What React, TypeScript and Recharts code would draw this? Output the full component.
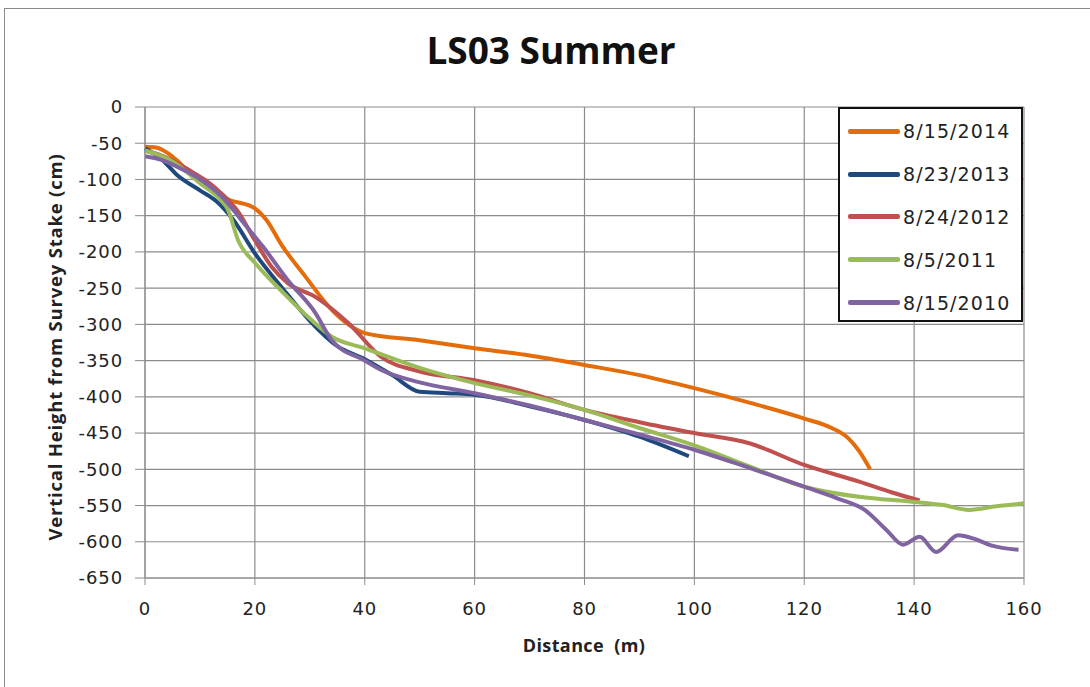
import React from "react";
import { LineChart, Line, XAxis, YAxis, CartesianGrid } from "recharts";

const xTicks = [0, 20, 40, 60, 80, 100, 120, 140, 160];
const yTicks = [0, -50, -100, -150, -200, -250, -300, -350, -400, -450, -500, -550, -600, -650];

const dist2014 = [0, 2, 4, 6, 8, 10, 12, 15, 20, 22, 25, 29, 34, 37, 40, 50, 60, 70, 80, 90, 100, 110, 120, 125, 128, 130, 132];
const h2014 = [-55, -56, -63, -75, -90, -101, -113, -127, -140, -155, -192, -232, -280, -300, -312, -322, -333, -343, -356, -370, -388, -408, -430, -443, -457, -475, -500];

const dist2013 = [0, 3, 6, 10, 13, 16, 20, 25, 30, 35, 40, 45, 50, 55, 60, 70, 80, 90, 99];
const h2013 = [-57, -72, -95, -115, -130, -155, -202, -250, -295, -330, -348, -370, -393, -395, -397, -413, -432, -455, -482];

const dist2012 = [0, 4, 8, 11, 14, 17, 20, 23, 26, 31, 37, 43, 50, 60, 70, 80, 90, 100, 110, 120, 130, 136, 141];
const h2012 = [-60, -70, -87, -101, -120, -145, -184, -220, -243, -262, -298, -345, -365, -377, -395, -418, -435, -450, -464, -494, -517, -532, -543];

const dist2011 = [0, 5, 10, 14, 15, 17, 20, 25, 30, 34, 40, 50, 60, 70, 80, 90, 100, 110, 120, 130, 140, 145, 150, 155, 160];
const h2011 = [-60, -75, -105, -130, -140, -185, -215, -255, -292, -317, -333, -360, -381, -398, -418, -443, -467, -496, -524, -538, -545, -549, -556, -551, -547];

const dist2010 = [0, 3, 6, 9.5, 14, 18.6, 21.5, 26, 31, 34, 40, 43, 50, 60, 70, 80, 90, 100, 110, 120, 126, 131, 135, 138, 141, 144, 148, 151, 154, 159];
const h2010 = [-68, -73, -83, -97, -124, -166, -193, -239, -284, -322, -350, -363, -380, -395, -412, -432, -452, -473, -498, -524, -540, -556, -584, -604, -593, -614, -591, -596, -605, -611];

const seriesNames = ["8/15/2014", "8/23/2013", "8/24/2012", "8/5/2011", "8/15/2010"];
const seriesColors = ["#E46C0A", "#1F497D", "#C0504D", "#9BBB59", "#8064A2"];

const zip = (xs: number[], ys: number[]) => xs.map((x, i) => ({ x, y: ys[i] }));
const seriesData = [
  zip(dist2014, h2014),
  zip(dist2013, h2013),
  zip(dist2012, h2012),
  zip(dist2011, h2011),
  zip(dist2010, h2010),
];

const FONT = "'DejaVu Sans', Verdana, sans-serif";
const BOLD = "'Open Sans', sans-serif";

export default function App() {
  return (
    <div style={{ position: "absolute", left: 0, top: 0, width: 1090, height: 687, background: "#fff", overflow: "hidden" }}>
      <div style={{ position: "absolute", left: 4, top: 8, width: 1100, height: 700, border: "1px solid #8a8a8a" }} />
      <div
        style={{
          position: "absolute",
          left: 6,
          width: 1090,
          top: 24,
          textAlign: "center",
          fontFamily: BOLD,
          fontWeight: 700,
          fontSize: 37,
          lineHeight: "normal",
          color: "#111",
        }}
      >
        LS03 Summer
      </div>
      <div style={{ position: "absolute", left: 0, top: 0 }}>
        <LineChart width={1090} height={687} margin={{ top: 107, right: 66, bottom: 79, left: 60 }}>
          <CartesianGrid stroke="#8c8c8c" strokeWidth={1.2} />
          <XAxis
            dataKey="x"
            type="number"
            domain={[0, 160]}
            ticks={xTicks}
            interval={0}
            allowDuplicatedCategory={false}
            stroke="#8c8c8c"
            tickSize={7}
            tickMargin={17}
            tick={{ fill: "#222", fontSize: 18, fontFamily: FONT, letterSpacing: 0.9 }}
          />
          <YAxis
            dataKey="y"
            type="number"
            domain={[-650, 0]}
            ticks={yTicks}
            interval={0}
            width={85}
            stroke="#8c8c8c"
            tickSize={10}
            tickMargin={12}
            tick={{ fill: "#222", fontSize: 18, fontFamily: FONT, letterSpacing: 0.9 }}
          />
          {seriesData.map((d, i) => (
            <Line
              key={seriesNames[i]}
              data={d}
              dataKey="y"
              name={seriesNames[i]}
              type="monotone"
              stroke={seriesColors[i]}
              strokeWidth={4}
              dot={false}
              isAnimationActive={false}
            />
          ))}
        </LineChart>
      </div>
      <div
        style={{
          position: "absolute",
          left: 434,
          width: 300,
          top: 633,
          textAlign: "center",
          fontFamily: BOLD,
          fontWeight: 700,
          fontSize: 18,
          lineHeight: "24px",
          letterSpacing: 0.4,
          color: "#222",
          whiteSpace: "pre",
        }}
      >
        {"Distance  (m)"}
      </div>
      <div
        style={{
          position: "absolute",
          left: 55 - 250,
          top: 347 - 12,
          width: 500,
          height: 24,
          lineHeight: "24px",
          textAlign: "center",
          transform: "rotate(-90deg)",
          fontFamily: BOLD,
          fontWeight: 700,
          fontSize: 18.5,
          letterSpacing: 0.8,
          color: "#222",
        }}
      >
        Vertical Height from Survey Stake (cm)
      </div>
      <div
        style={{
          position: "absolute",
          left: 838,
          top: 107,
          width: 185,
          height: 215,
          border: "2px solid #111",
          background: "#fff",
          boxSizing: "border-box",
          paddingTop: 1,
        }}
      >
        {seriesNames.map((n, i) => (
          <div key={n} style={{ display: "flex", alignItems: "center", height: 42.8 }}>
            <div style={{ width: 52, height: 5, background: seriesColors[i], marginLeft: 8, borderRadius: 2 }} />
            <span style={{ fontFamily: FONT, fontSize: 19, letterSpacing: 1.1, color: "#222", marginLeft: 3 }}>{n}</span>
          </div>
        ))}
      </div>
    </div>
  );
}
